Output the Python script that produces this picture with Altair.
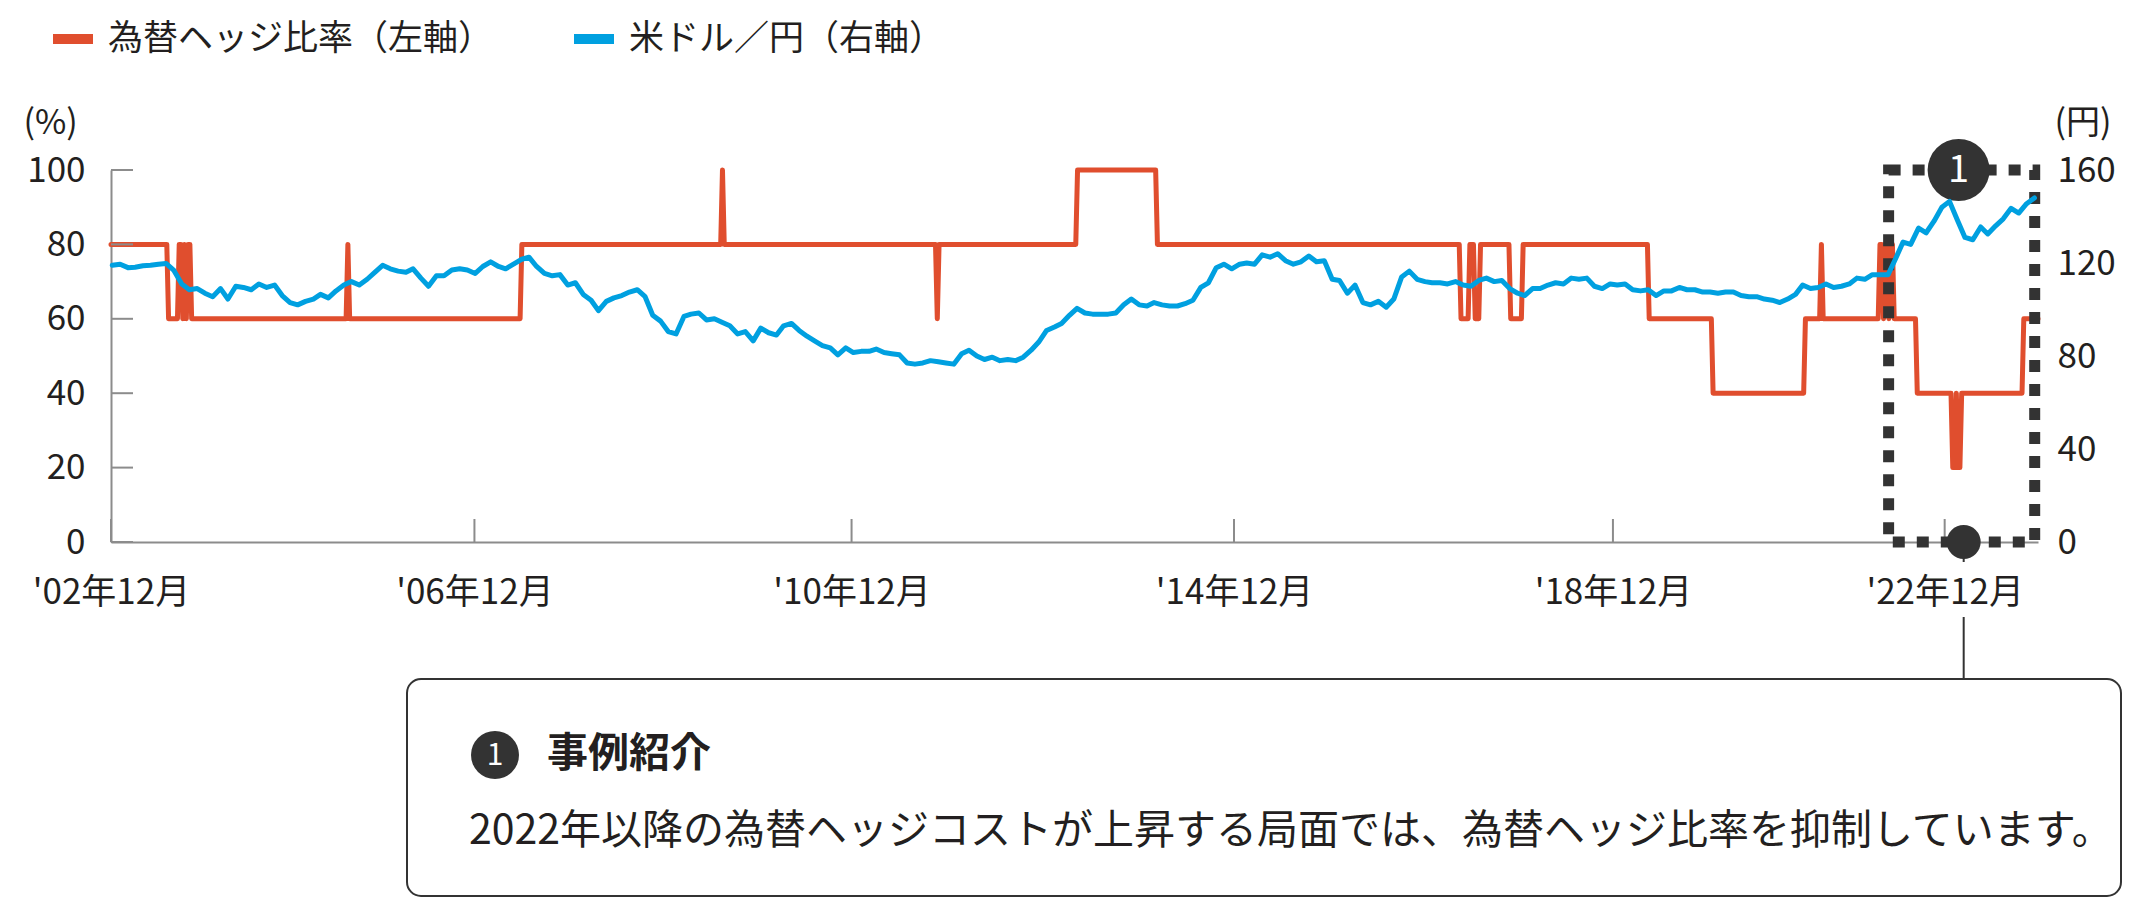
import json
import altair as alt
import pandas as pd

FONT = "Noto Sans CJK JP"
TXT = "#231f20"
ORANGE = "#e04e2e"
BLUE = "#00a0e0"
DARK = "#333333"
GRAY = "#8c8c8c"

SERIES_HEDGE = "為替ヘッジ比率（左軸）"
SERIES_FX = "米ドル／円（右軸）"

DOMAIN_START = "2002-12-10"
DOMAIN_END = "2023-09-29"

# hedge ratio (%) : date from which each value applies
hedge_change_dates = [
    "2002-12-10", "2003-07-25", "2003-09-05", "2003-09-19", "2003-09-26", "2003-10-03",
    "2003-10-10", "2003-10-24", "2005-07-01", "2005-07-08", "2007-05-18", "2009-07-17",
    "2009-07-24", "2011-11-11", "2011-11-18", "2013-05-17", "2014-03-28", "2017-07-07",
    "2017-08-11", "2017-09-01", "2017-09-22", "2018-01-19", "2018-03-09", "2019-07-19",
    "2020-03-27", "2021-03-26", "2021-05-28", "2021-06-04", "2022-01-14", "2022-01-28",
    "2022-02-04", "2022-02-18", "2022-02-25", "2022-03-11", "2022-06-10", "2022-10-28",
    "2022-11-11", "2022-11-18", "2022-12-02", "2023-08-04",
]
hedge_change_values = [
    80, 60, 80, 60, 80, 60,
    80, 60, 80, 60, 80, 100,
    80, 60, 80, 100, 80, 60,
    80, 60, 80, 60, 80, 60,
    40, 60, 80, 60, 80, 60,
    80, 60, 80, 60, 40, 20,
    40, 20, 40, 60,
]

# USD/JPY (yen), one value per month from 2002-12 to 2023-09
fx_first_month = "2002-12"
fx_values = [
    119.0,
    119.5, 118.0, 118.2, 118.8, 119.0, 119.5, 119.8, 116.8, 111.0, 108.5, 109.0, 107.0,
    105.5, 109.0, 104.5, 110.0, 109.5, 108.5, 111.0, 109.5, 110.5, 106.0, 103.0, 102.0,
    103.5, 104.5, 106.5, 105.0, 108.0, 110.5, 112.0, 110.5, 113.0, 116.0, 119.0, 117.5,
    116.5, 116.0, 117.5, 113.5, 110.0, 114.5, 114.5, 117.0, 117.5, 117.0, 115.5, 118.5,
    120.5, 118.5, 117.5, 119.5, 121.5, 122.5, 118.5, 115.5, 114.5, 115.0, 110.5, 111.5,
    106.5, 104.0, 99.5, 103.5, 105.0, 106.0, 107.5, 108.5, 105.5, 97.5, 95.0, 90.5,
    89.5, 97.0, 98.0, 98.5, 95.5, 96.0, 94.5, 93.0, 89.5, 90.5, 86.5, 92.0,
    90.0, 89.0, 93.0, 94.0, 91.0, 88.5, 86.5, 84.5, 83.5, 80.5, 83.5, 81.5,
    82.0, 82.0, 83.0, 81.5, 81.0, 80.5, 77.0, 76.5, 77.0, 78.0, 77.5, 77.0,
    76.5, 81.0, 82.5, 80.0, 78.5, 79.5, 78.0, 78.5, 78.0, 79.5, 82.5, 86.0,
    91.0, 92.5, 94.0, 97.5, 100.5, 98.5, 98.0, 98.0, 98.0, 98.5, 102.0, 104.5,
    102.0, 101.5, 103.0, 102.0, 101.5, 101.5, 102.5, 104.0, 109.5, 111.5, 118.0, 119.5,
    117.5, 119.5, 120.0, 119.5, 123.5, 122.5, 124.0, 121.0, 119.5, 120.5, 123.0, 120.5,
    121.0, 113.0, 112.5, 107.0, 110.5, 103.0, 102.0, 103.5, 101.0, 104.5, 114.0, 116.5,
    113.0, 112.0, 111.5, 111.5, 111.0, 112.0, 110.5, 110.0, 112.5, 113.5, 112.0, 112.5,
    109.0, 107.0, 106.0, 109.0, 109.0, 110.5, 111.5, 111.0, 113.5, 113.0, 113.5, 110.0,
    109.0, 111.0, 110.5, 111.0, 108.5, 108.0, 108.5, 106.0, 108.0, 108.0, 109.5, 108.5,
    108.5, 107.5, 107.5, 107.0, 107.5, 107.5, 106.0, 105.5, 105.5, 104.5, 104.0, 103.0,
    104.5, 106.5, 110.5, 109.0, 109.5, 111.0, 109.5, 110.0, 111.0, 113.5, 113.0, 115.0,
    115.0, 115.0, 121.5, 129.0, 128.0, 135.0, 133.0, 138.0, 144.0, 146.5, 138.5, 131.0,
    130.0, 135.5, 132.5, 136.0, 139.0, 143.5, 141.5, 145.5, 148.0,
]

left_ticks = [0, 20, 40, 60, 80, 100]
right_ticks = [0, 40, 80, 120, 160]
x_tick_dates = ["2002-12-10", "2006-11-12", "2010-12-08", "2015-01-24", "2019-02-26", "2022-09-26"]
x_tick_labels = ["'02年12月", "'06年12月", "'10年12月", "'14年12月", "'18年12月", "'22年12月"]

highlight_start = "2022-02-17"
highlight_end = "2023-09-16"
badge_date = "2022-11-20"
marker_date = "2022-12-10"
badge_label = "1"
callout_title = "事例紹介"
callout_text = "2022年以降の為替ヘッジコストが上昇する局面では、為替ヘッジ比率を抑制しています。"
left_title = "(%)"
right_title = "(円)"

# ---------------- tables ----------------
fri = pd.offsets.Week(weekday=4)
chg = pd.Series(hedge_change_values,
                index=[fri.rollforward(pd.Timestamp(d)) if i else pd.Timestamp(d)
                       for i, d in enumerate(hedge_change_dates)])
weeks = pd.date_range(DOMAIN_START, DOMAIN_END, freq="W-FRI").insert(0, pd.Timestamp(DOMAIN_START))
hedge_vals = chg.reindex(chg.index.union(weeks)).ffill().loc[weeks]
hedge_df = pd.DataFrame({"date": weeks, "value": hedge_vals.values, "series": SERIES_HEDGE})

fx_dates = pd.period_range(fx_first_month, periods=len(fx_values), freq="M").to_timestamp() + pd.Timedelta(days=14)
fx_df = pd.DataFrame({"date": fx_dates, "fx": fx_values, "series": SERIES_FX})


def dt(s):
    t = pd.Timestamp(s)
    return alt.DateTime(year=t.year, month=t.month, date=t.day)


x_scale = alt.Scale(domain=[dt(DOMAIN_START), dt(DOMAIN_END)], nice=False)
y_left = alt.Scale(domain=[0, 100], nice=False)
y_right = alt.Scale(domain=[0, 160], nice=False)
color_scale = alt.Scale(domain=[SERIES_HEDGE, SERIES_FX], range=[ORANGE, BLUE])

legend = alt.Legend(
    title=None, orient="none", legendX=-63, legendY=-156, direction="horizontal",
    labelFont=FONT, labelFontSize=35, labelColor=TXT, labelOffset=10,
    symbolType="stroke", symbolSize=1600, symbolStrokeWidth=10,
    columnPadding=60, padding=0, labelLimit=1000,
)

label_expr = "".join(
    f"year(datum.value) == {pd.Timestamp(d).year} ? {json.dumps(l, ensure_ascii=False)} : "
    for d, l in zip(x_tick_dates, x_tick_labels)
) + '""'

x_axis = alt.Axis(
    values=[dt(d) for d in x_tick_dates], labelExpr=label_expr, title=None,
    ticks=False, tickSize=0, grid=False, domainColor=GRAY, domainWidth=2,
    labelFont=FONT, labelFontSize=35, labelColor=TXT, labelPadding=50,
    labelBaseline="middle", labelAlign="center", labelOverlap=False, labelFlush=False,
)
y_left_axis = alt.Axis(
    values=left_ticks, title=left_title, titleAngle=0, titleAlign="left",
    titleBaseline="middle", titleX=-88, titleY=-47, titleFont=FONT,
    titleFontSize=34, titleFontWeight="normal", titleColor=TXT,
    ticks=False, tickSize=0, grid=False, domainColor=GRAY, domainWidth=2,
    labelFont=FONT, labelFontSize=35, labelColor=TXT, labelPadding=26,
)
y_right_axis = alt.Axis(
    orient="right", values=right_ticks, title=right_title, titleAngle=0,
    titleAlign="left", titleBaseline="middle", titleX=16, titleY=-47,
    titleFont=FONT, titleFontSize=34, titleFontWeight="normal", titleColor=TXT,
    ticks=False, tickSize=0, grid=False, domain=False,
    labelFont=FONT, labelFontSize=35, labelColor=TXT, labelPadding=19,
)


def X(field):
    return alt.X(field, scale=x_scale, axis=x_axis)


def YL(field):
    return alt.Y(field, scale=y_left, axis=y_left_axis)


hedge_line = alt.Chart(hedge_df).mark_line(
    strokeWidth=5, strokeJoin="round", strokeCap="round"
).encode(
    x=X("date:T"), y=YL("value:Q"),
    color=alt.Color("series:N", scale=color_scale, legend=legend),
)

ytick_df = pd.DataFrame({"tick": left_ticks})
ytick_rules = alt.Chart(ytick_df).mark_rule(color=GRAY, strokeWidth=2).encode(
    y=YL("tick:Q"), x=alt.value(0), x2=alt.value(22),
)

xtick_df = pd.DataFrame({"date": pd.to_datetime(x_tick_dates)})
xtick_rules = alt.Chart(xtick_df).mark_rule(color=GRAY, strokeWidth=2).encode(
    x=X("date:T"), y=alt.value(349), y2=alt.value(372),
)

box_df = pd.DataFrame({"start": [pd.Timestamp(highlight_start)], "end": [pd.Timestamp(highlight_end)],
                       "lo": [0], "hi": [100]})
highlight_box = alt.Chart(box_df).mark_rect(
    fill="transparent", stroke=DARK, strokeWidth=11, strokeDash=[12, 12]
).encode(x=X("start:T"), x2="end:T", y=YL("lo:Q"), y2="hi:Q")

badge_df = pd.DataFrame({"date": [pd.Timestamp(badge_date)], "v": [100], "label": [badge_label]})
badge = alt.Chart(badge_df).mark_circle(size=3844, color=DARK, opacity=1).encode(
    x=X("date:T"), y=YL("v:Q"),
)
badge_text = alt.Chart(badge_df).mark_text(
    font=FONT, fontSize=38, color="white", baseline="middle", align="center", dy=1
).encode(x=X("date:T"), y=YL("v:Q"), text="label:N")

marker_df = pd.DataFrame({"date": [pd.Timestamp(marker_date)], "v": [0]})
marker_dot = alt.Chart(marker_df).mark_circle(size=1156, color=DARK, opacity=1).encode(
    x=X("date:T"), y=YL("v:Q"),
)
connector_a = alt.Chart(marker_df).mark_rule(color=DARK, strokeWidth=2).encode(
    x=X("date:T"), y=alt.value(372), y2=alt.value(392),
)
connector_b = alt.Chart(marker_df).mark_rule(color=DARK, strokeWidth=2).encode(
    x=X("date:T"), y=alt.value(447), y2=alt.value(509),
)

callout_df = pd.DataFrame({"badge": [badge_label], "title": [callout_title], "text": [callout_text]})
callout_box = alt.Chart(callout_df).mark_rect(
    fill="white", stroke=DARK, strokeWidth=2, cornerRadius=14
).encode(x=alt.value(296), x2=alt.value(2010), y=alt.value(509), y2=alt.value(726))
callout_badge = alt.Chart(callout_df).mark_circle(size=2304, color=DARK, opacity=1).encode(
    x=alt.value(384), y=alt.value(585)
)
callout_badge_text = alt.Chart(callout_df).mark_text(
    font=FONT, fontSize=30, color="white", align="center", baseline="middle"
).encode(x=alt.value(384), y=alt.value(586), text="badge:N")
callout_title_text = alt.Chart(callout_df).mark_text(
    font=FONT, fontSize=41, fontWeight="bold", color=TXT, align="left", baseline="middle"
).encode(x=alt.value(436), y=alt.value(585), text="title:N")
callout_body = alt.Chart(callout_df).mark_text(
    font=FONT, fontSize=41, color=TXT, align="left", baseline="middle"
).encode(x=alt.value(358), y=alt.value(662), text="text:N")

fx_line = alt.Chart(fx_df).mark_line(strokeWidth=5, strokeJoin="round", strokeCap="round").encode(
    x=X("date:T"),
    y=alt.Y("fx:Q", scale=y_right, axis=y_right_axis),
    color=alt.Color("series:N", scale=color_scale, legend=legend),
)

left = alt.layer(
    hedge_line, ytick_rules, xtick_rules, highlight_box, badge, badge_text,
    connector_a, connector_b, marker_dot,
    callout_box, callout_badge, callout_badge_text, callout_title_text, callout_body,
)

chart = alt.layer(left, fx_line).resolve_scale(y="independent").properties(
    width=1927, height=372,
    autosize=alt.AutoSizeParams(type="none"),
    padding={"left": 103, "top": 162, "right": 95, "bottom": 357},
    background="white",
).configure_view(stroke=None)

chart.save("out.html", embed_options={"renderer": "svg", "actions": False})
